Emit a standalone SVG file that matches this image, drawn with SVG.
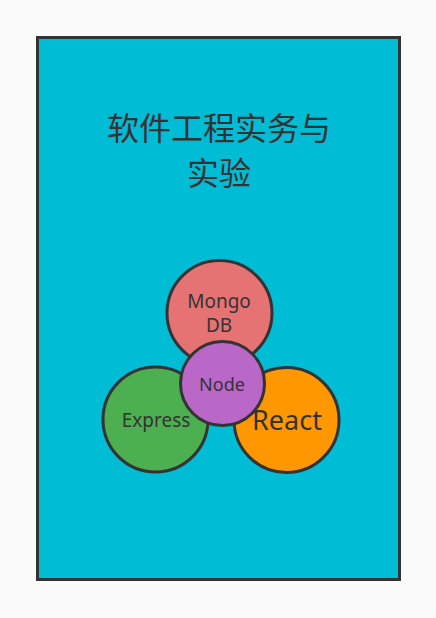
<svg xmlns="http://www.w3.org/2000/svg" width="436" height="618" viewBox="0 0 436 618">
<style>
.c{stroke:#333;stroke-width:3}
.t{fill:#333;font-family:"Noto Sans","Noto Sans CJK SC",sans-serif;text-anchor:middle;dominant-baseline:central}
.h{font-family:"Noto Sans CJK SC",sans-serif;font-size:32px}
</style>
<rect width="436" height="618" fill="#fafafa"/>
<g id="frame"><rect x="37.5" y="37.5" width="362" height="542" fill="#00bcd4" stroke="#333" stroke-width="3"/></g>
<g id="title">
<text class="t h" x="219" y="126">软件工程实务与</text>
<text class="t h" x="219" y="171">实验</text>
</g>
<g id="connectors"></g>
<g id="mongo"><circle class="c" cx="219.5" cy="313" r="52.5" fill="#e57373"/>
<text class="t" x="219" y="301" font-size="19">Mongo</text>
<text class="t" x="219" y="325" font-size="19">DB</text></g>
<g id="express"><circle class="c" cx="155.5" cy="419.5" r="52.5" fill="#4caf50"/>
<text class="t" x="156" y="420" font-size="19">Express</text></g>
<g id="react"><circle class="c" cx="286.5" cy="420" r="52.5" fill="#ff9800"/>
<text class="t" x="287" y="419" font-size="27">React</text></g>
<g id="node"><circle class="c" cx="222.5" cy="383.5" r="42" fill="#ba68c8"/>
<text class="t" x="222" y="384" font-size="18">Node</text></g>
</svg>
